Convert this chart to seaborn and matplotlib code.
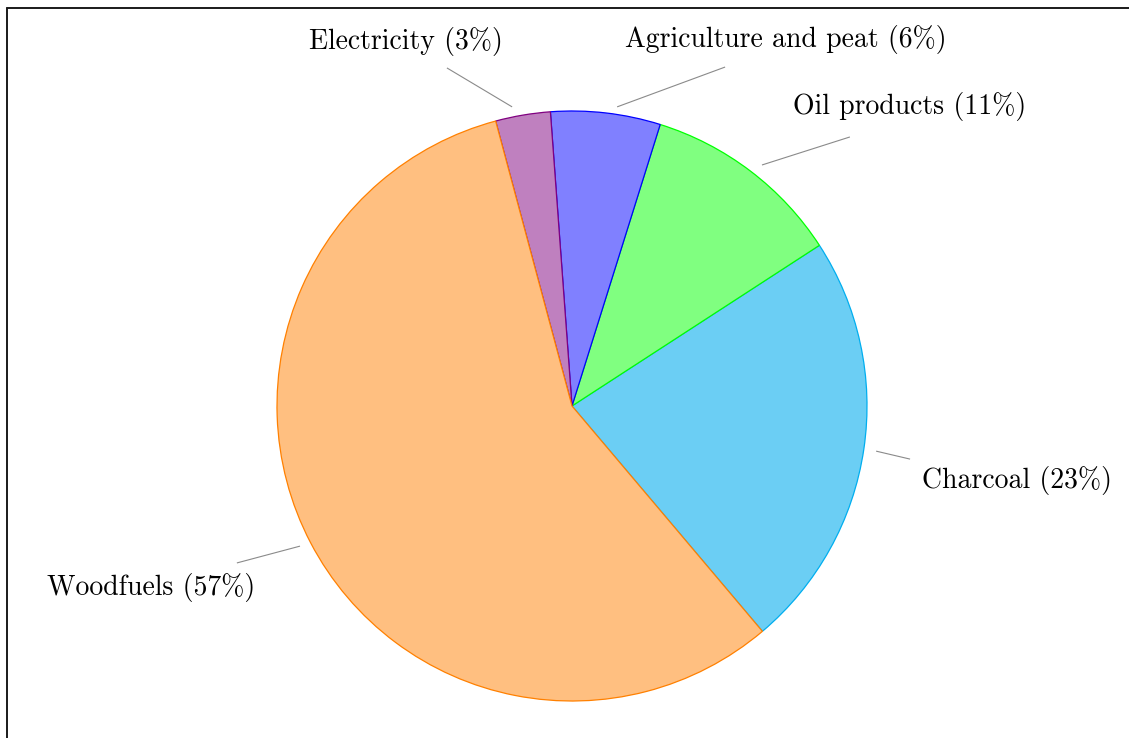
import numpy as np
import matplotlib
matplotlib.use("Agg")
import matplotlib.pyplot as plt
from matplotlib.lines import Line2D
import seaborn as sns

# Energy consumption shares by source
sources = ["Charcoal", "Oil products", "Agriculture and peat", "Electricity", "Woodfuels"]
shares = [23, 11, 6, 3, 57]

fill_colors = ["#6BCEF4", "#80FF80", "#8080FF", "#BF80BF", "#FFBF80"]
edge_colors = ["#00AEEF", "#00FF00", "#0000FF", "#800080", "#FF8000"]

# Pin layout for each label (data units, pie radius = 1):
# leader line start, leader line end, and baseline-centre of the text
pin_starts = [(1.031, -0.153), (0.644, 0.817), (0.153, 1.014), (-0.203, 1.014), (-0.922, -0.475)]
pin_ends = [(1.146, -0.180), (0.942, 0.912), (0.519, 1.149), (-0.424, 1.146), (-1.136, -0.532)]
text_pos = [(1.508, -0.278), (1.146, 0.990), (0.725, 1.218), (-0.563, 1.210), (-1.427, -0.641)]

sns.set_theme(style="white")
plt.rcParams["font.family"] = ["cmr10", "DejaVu Serif"]
plt.rcParams["axes.unicode_minus"] = False

fig = plt.figure(figsize=(11.29, 7.38), dpi=100)
ax = fig.add_axes([0, 0, 1, 1])

wedges, _ = ax.pie(
    shares,
    colors=fill_colors,
    startangle=-49.8,
    counterclock=True,
    radius=1.0,
    center=(0, 0),
    wedgeprops=dict(linewidth=0.9),
)
for w, ec in zip(wedges, edge_colors):
    w.set_edgecolor(ec)

for name, val, start, end, tp in zip(sources, shares, pin_starts, pin_ends, text_pos):
    ax.plot([start[0], end[0]], [start[1], end[1]], color="#8a8a8a", lw=0.8,
            solid_capstyle="butt")
    ax.text(tp[0], tp[1], f"{name} ({val}%)", ha="center", va="baseline",
            fontsize=20, color="#000000")

ax.set_xlim(-572 / 295, (1129 - 572) / 295)
ax.set_ylim(-(738 - 406) / 295, 406 / 295)
ax.set_aspect("auto")
ax.axis("off")

# Frame along the left and top edges
x0 = 7 / 1129
y0 = 1 - 7.5 / 738
fig.add_artist(Line2D([x0, x0], [0, y0], transform=fig.transFigure, color="#1a1a1a", lw=1.4))
fig.add_artist(Line2D([x0, 1], [y0, y0], transform=fig.transFigure, color="#1a1a1a", lw=1.4))

fig.savefig("out.png", dpi=100)
